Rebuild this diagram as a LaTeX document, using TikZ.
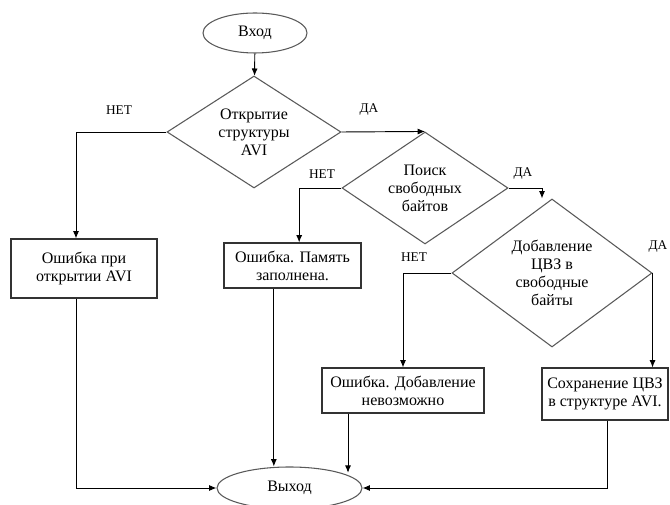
\documentclass[tikz,border=0pt]{standalone}
\usepackage{fontspec}
\setmainfont{Liberation Serif}
\usepackage{tikz}
\usetikzlibrary{arrows.meta,shapes.geometric,positioning,calc}

\begin{document}
\begin{tikzpicture}[x=0.75pt,y=-0.75pt,
  txt/.style={font=\rmfamily\fontsize{12}{13.5}\selectfont, align=center},
  lbl/.style={font=\rmfamily\fontsize{10}{11}\selectfont},
  term/.style={txt, ellipse, draw=black!65, line width=0.8pt, inner sep=0pt},
  cond/.style={txt, diamond, draw=black!65, line width=0.8pt, inner sep=0pt},
  proc/.style={txt, rectangle, draw=black!80, line width=0.8pt, inner sep=0pt},
  arr/.style={-{Latex[length=5.5pt,width=4.5pt]}, line width=0.7pt}]
  \useasboundingbox(0,0) rectangle (670,505);
  \node[term, minimum width=78pt, minimum height=30pt](in) at(255,33){Вход};
  \node[cond, aspect=1.55, minimum width=130.5pt, minimum height=84pt](d1) at(254,132)
    {Открытие\\структуры\\AVI};
  \node[cond, aspect=1.48, minimum width=124.5pt, minimum height=84pt](d2) at(425,188)
    {Поиск\\свободных\\байтов};
  \node[cond, aspect=1.35, minimum width=150pt, minimum height=111pt](d3) at(552,273)
    {Добавление\\ЦВЗ в\\свободные\\байты};
  \node[proc, minimum width=109.5pt, minimum height=44.25pt](b1) at(84,268.5)
    {Ошибка при\\открытии AVI};
  \node[proc, minimum width=102.75pt, minimum height=33.75pt](b2) at(292.5,265.5)
    {Ошибка. Память\\заполнена.};
  \node[proc, minimum width=121.5pt, minimum height=33.75pt](b3) at(403,390.5)
    {Ошибка. Добавление\\невозможно};
  \node[proc, minimum width=94.5pt, minimum height=39pt](b4) at(605,394)
    {Сохранение ЦВЗ\\в структуре AVI.};
  \node[term, minimum width=108.75pt, minimum height=31.5pt](out) at(289.5,488){Выход};
  \node[lbl](n1) at(119,110){НЕТ};
  \node[lbl](y1) at(369,110){ДА};
  \node[lbl](n2) at(322,174){НЕТ};
  \node[lbl](y2) at(523,174){ДА};
  \node[lbl](n3) at(414,257){НЕТ};
  \node[lbl](y3) at(658,247){ДА};
  \draw[arr](in)--(d1);
  \draw[arr](d1.west)-|([xshift=-6pt]b1.north);
  \draw[arr](d1.east)--(d2.north);
  \draw[arr](d2.west)-|([xshift=5pt]b2.north);
  \draw[arr](d2.east)-|([xshift=-7.5pt]d3.north);
  \draw[arr](d3.west)-|(b3.north);
  \draw[arr](d3.east)--(d3.east|-b4.north);
  \draw[arr]([xshift=-6pt]b1.south)|-(out.west);
  \draw[arr]([xshift=-14pt]b2.south)--([xshift=-14pt]b2.south|-out.north);
  \draw[arr]([xshift=-41.25pt]b3.south)--([xshift=-41.25pt]b3.south|-out.north east);
  \draw[arr]([xshift=1.5pt]b4.south)|-(out.east);
\end{tikzpicture}
\end{document}
